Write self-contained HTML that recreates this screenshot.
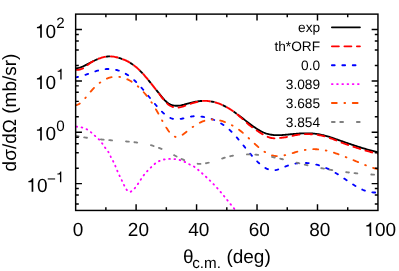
<!DOCTYPE html>
<html><head><meta charset="utf-8"><title>plot</title>
<style>html,body{margin:0;padding:0;background:#fff;}svg{display:block;will-change:transform;}text{text-rendering:geometricPrecision;font-family:"Liberation Sans",sans-serif;fill:#000;}</style></head>
<body>
<svg width="399" height="271" viewBox="0 0 399 271">
<rect width="399" height="271" fill="#fff"/>
<defs><clipPath id="c"><rect x="75.65" y="14.12" width="302.30" height="196.33"/></clipPath></defs>
<g clip-path="url(#c)" fill="none" stroke-width="1.85" stroke-linecap="round" stroke-linejoin="round">
<path d="M75.60 68.30 L76.60 68.22 L77.60 68.08 L78.60 67.87 L79.60 67.61 L80.60 67.30 L81.60 66.94 L82.60 66.54 L83.60 66.11 L84.60 65.65 L85.60 65.16 L86.60 64.65 L87.60 64.12 L88.60 63.59 L89.60 63.05 L90.60 62.51 L91.60 61.98 L92.60 61.46 L93.60 60.95 L94.60 60.46 L95.60 59.99 L96.60 59.55 L97.60 59.12 L98.60 58.73 L99.60 58.35 L100.60 58.01 L101.60 57.69 L102.60 57.41 L103.60 57.16 L104.60 56.94 L105.60 56.75 L106.60 56.61 L107.60 56.50 L108.60 56.43 L109.60 56.41 L110.60 56.42 L111.60 56.47 L112.60 56.56 L113.60 56.69 L114.60 56.85 L115.60 57.04 L116.60 57.26 L117.60 57.52 L118.60 57.80 L119.60 58.10 L120.60 58.43 L121.60 58.78 L122.60 59.15 L123.60 59.55 L124.60 59.97 L125.60 60.41 L126.60 60.89 L127.60 61.39 L128.60 61.92 L129.60 62.49 L130.60 63.09 L131.60 63.72 L132.60 64.40 L133.60 65.11 L134.60 65.87 L135.60 66.66 L136.60 67.51 L137.60 68.39 L138.60 69.32 L139.60 70.28 L140.60 71.29 L141.60 72.33 L142.60 73.39 L143.60 74.49 L144.60 75.62 L145.60 76.77 L146.60 77.95 L147.60 79.14 L148.60 80.35 L149.60 81.58 L150.60 82.82 L151.60 84.07 L152.60 85.33 L153.60 86.60 L154.60 87.87 L155.60 89.14 L156.60 90.41 L157.60 91.68 L158.60 92.94 L159.60 94.19 L160.60 95.43 L161.60 96.65 L162.60 97.83 L163.60 98.96 L164.60 100.04 L165.60 101.04 L166.60 101.96 L167.60 102.78 L168.60 103.49 L169.60 104.09 L170.60 104.58 L171.60 104.97 L172.60 105.28 L173.60 105.51 L174.60 105.67 L175.60 105.76 L176.60 105.79 L177.60 105.77 L178.60 105.70 L179.60 105.58 L180.60 105.43 L181.60 105.24 L182.60 105.02 L183.60 104.78 L184.60 104.52 L185.60 104.24 L186.60 103.96 L187.60 103.67 L188.60 103.39 L189.60 103.11 L190.60 102.85 L191.60 102.59 L192.60 102.35 L193.60 102.13 L194.60 101.92 L195.60 101.73 L196.60 101.55 L197.60 101.40 L198.60 101.26 L199.60 101.14 L200.60 101.04 L201.60 100.97 L202.60 100.91 L203.60 100.88 L204.60 100.88 L205.60 100.89 L206.60 100.94 L207.60 101.01 L208.60 101.10 L209.60 101.23 L210.60 101.37 L211.60 101.55 L212.60 101.75 L213.60 101.97 L214.60 102.22 L215.60 102.49 L216.60 102.79 L217.60 103.12 L218.60 103.46 L219.60 103.84 L220.60 104.23 L221.60 104.66 L222.60 105.10 L223.60 105.57 L224.60 106.07 L225.60 106.58 L226.60 107.12 L227.60 107.69 L228.60 108.28 L229.60 108.89 L230.60 109.52 L231.60 110.18 L232.60 110.85 L233.60 111.54 L234.60 112.25 L235.60 112.97 L236.60 113.70 L237.60 114.45 L238.60 115.20 L239.60 115.97 L240.60 116.74 L241.60 117.52 L242.60 118.30 L243.60 119.08 L244.60 119.86 L245.60 120.64 L246.60 121.42 L247.60 122.20 L248.60 122.97 L249.60 123.73 L250.60 124.48 L251.60 125.22 L252.60 125.95 L253.60 126.66 L254.60 127.36 L255.60 128.03 L256.60 128.68 L257.60 129.31 L258.60 129.92 L259.60 130.49 L260.60 131.04 L261.60 131.56 L262.60 132.04 L263.60 132.49 L264.60 132.90 L265.60 133.27 L266.60 133.61 L267.60 133.90 L268.60 134.17 L269.60 134.39 L270.60 134.59 L271.60 134.75 L272.60 134.89 L273.60 135.00 L274.60 135.08 L275.60 135.14 L276.60 135.17 L277.60 135.19 L278.60 135.19 L279.60 135.17 L280.60 135.13 L281.60 135.08 L282.60 135.02 L283.60 134.95 L284.60 134.87 L285.60 134.78 L286.60 134.68 L287.60 134.58 L288.60 134.48 L289.60 134.38 L290.60 134.28 L291.60 134.18 L292.60 134.08 L293.60 133.99 L294.60 133.90 L295.60 133.82 L296.60 133.74 L297.60 133.66 L298.60 133.59 L299.60 133.53 L300.60 133.47 L301.60 133.42 L302.60 133.38 L303.60 133.34 L304.60 133.32 L305.60 133.31 L306.60 133.30 L307.60 133.31 L308.60 133.32 L309.60 133.35 L310.60 133.39 L311.60 133.45 L312.60 133.51 L313.60 133.59 L314.60 133.69 L315.60 133.80 L316.60 133.92 L317.60 134.07 L318.60 134.22 L319.60 134.40 L320.60 134.59 L321.60 134.80 L322.60 135.03 L323.60 135.27 L324.60 135.53 L325.60 135.80 L326.60 136.08 L327.60 136.37 L328.60 136.68 L329.60 136.99 L330.60 137.31 L331.60 137.64 L332.60 137.98 L333.60 138.32 L334.60 138.66 L335.60 139.01 L336.60 139.35 L337.60 139.70 L338.60 140.05 L339.60 140.40 L340.60 140.75 L341.60 141.10 L342.60 141.45 L343.60 141.80 L344.60 142.15 L345.60 142.50 L346.60 142.84 L347.60 143.19 L348.60 143.53 L349.60 143.87 L350.60 144.21 L351.60 144.55 L352.60 144.89 L353.60 145.22 L354.60 145.55 L355.60 145.88 L356.60 146.21 L357.60 146.53 L358.60 146.85 L359.60 147.17 L360.60 147.48 L361.60 147.79 L362.60 148.10 L363.60 148.40 L364.60 148.70 L365.60 149.00 L366.60 149.29 L367.60 149.57 L368.60 149.85 L369.60 150.13 L370.60 150.40 L371.60 150.66 L372.60 150.92 L373.60 151.18 L374.60 151.43 L375.60 151.67 L376.60 151.91 L377.60 152.14 L377.90 152.20" stroke="#000000"/>
<clipPath id="e"><rect x="95" y="0" width="64" height="271"/><rect x="199" y="0" width="39" height="271"/></clipPath>
<path clip-path="url(#e)" d="M75.60 69.90 L76.60 69.94 L77.60 69.89 L78.60 69.76 L79.60 69.54 L80.60 69.26 L81.60 68.93 L82.60 68.54 L83.60 68.06 L84.60 67.34 L85.60 66.49 L86.60 65.65 L87.60 64.89 L88.60 64.15 L89.60 63.43 L90.60 62.75 L91.60 62.13 L92.60 61.54 L93.60 60.98 L94.60 60.47 L95.60 59.99 L96.60 59.55 L97.60 59.12 L98.60 58.73 L99.60 58.35 L100.60 58.01 L101.60 57.69 L102.60 57.41 L103.60 57.16 L104.60 56.94 L105.60 56.75 L106.60 56.61 L107.60 56.50 L108.60 56.43 L109.60 56.41 L110.60 56.42 L111.60 56.47 L112.60 56.56 L113.60 56.69 L114.60 56.85 L115.60 57.04 L116.60 57.26 L117.60 57.52 L118.60 57.80 L119.60 58.10 L120.60 58.43 L121.60 58.78 L122.60 59.15 L123.60 59.55 L124.60 59.97 L125.60 60.41 L126.60 60.89 L127.60 61.39 L128.60 61.92 L129.60 62.49 L130.60 63.09 L131.60 63.72 L132.60 64.40 L133.60 65.11 L134.60 65.87 L135.60 66.66 L136.60 67.51 L137.60 68.39 L138.60 69.32 L139.60 70.28 L140.60 71.29 L141.60 72.33 L142.60 73.39 L143.60 74.49 L144.60 75.62 L145.60 76.77 L146.60 77.95 L147.60 79.14 L148.60 80.35 L149.60 81.58 L150.60 82.82 L151.60 84.08 L152.60 85.36 L153.60 86.65 L154.60 87.94 L155.60 89.25 L156.60 90.56 L157.60 91.87 L158.60 93.17 L159.60 94.47 L160.60 95.77 L161.60 97.07 L162.60 98.36 L163.60 99.62 L164.60 100.83 L165.60 101.97 L166.60 103.01 L167.60 103.94 L168.60 104.74 L169.60 105.43 L170.60 106.01 L171.60 106.49 L172.60 106.88 L173.60 107.18 L174.60 107.40 L175.60 107.54 L176.60 107.59 L177.60 107.57 L178.60 107.47 L179.60 107.32 L180.60 107.11 L181.60 106.86 L182.60 106.57 L183.60 106.25 L184.60 105.92 L185.60 105.57 L186.60 105.22 L187.60 104.86 L188.60 104.50 L189.60 104.14 L190.60 103.79 L191.60 103.45 L192.60 103.13 L193.60 102.82 L194.60 102.53 L195.60 102.26 L196.60 102.01 L197.60 101.76 L198.60 101.53 L199.60 101.32 L200.60 101.14 L201.60 101.00 L202.60 100.92 L203.60 100.88 L204.60 100.88 L205.60 100.89 L206.60 100.94 L207.60 101.01 L208.60 101.10 L209.60 101.23 L210.60 101.37 L211.60 101.55 L212.60 101.75 L213.60 101.97 L214.60 102.22 L215.60 102.49 L216.60 102.79 L217.60 103.12 L218.60 103.46 L219.60 103.84 L220.60 104.23 L221.60 104.66 L222.60 105.10 L223.60 105.57 L224.60 106.07 L225.60 106.58 L226.60 107.12 L227.60 107.69 L228.60 108.28 L229.60 108.89 L230.60 109.52 L231.60 110.18 L232.60 110.85 L233.60 111.55 L234.60 112.29 L235.60 113.07 L236.60 113.88 L237.60 114.72 L238.60 115.57 L239.60 116.43 L240.60 117.30 L241.60 118.18 L242.60 119.08 L243.60 119.99 L244.60 120.90 L245.60 121.80 L246.60 122.69 L247.60 123.58 L248.60 124.46 L249.60 125.31 L250.60 126.11 L251.60 126.88 L252.60 127.63 L253.60 128.36 L254.60 129.07 L255.60 129.76 L256.60 130.44 L257.60 131.10 L258.60 131.74 L259.60 132.38 L260.60 133.01 L261.60 133.62 L262.60 134.24 L263.60 134.84 L264.60 135.42 L265.60 135.95 L266.60 136.41 L267.60 136.81 L268.60 137.18 L269.60 137.50 L270.60 137.79 L271.60 138.01 L272.60 138.18 L273.60 138.29 L274.60 138.32 L275.60 138.30 L276.60 138.24 L277.60 138.16 L278.60 138.07 L279.60 137.98 L280.60 137.89 L281.60 137.78 L282.60 137.67 L283.60 137.54 L284.60 137.39 L285.60 137.23 L286.60 137.04 L287.60 136.84 L288.60 136.63 L289.60 136.41 L290.60 136.20 L291.60 135.99 L292.60 135.78 L293.60 135.59 L294.60 135.38 L295.60 135.18 L296.60 134.99 L297.60 134.82 L298.60 134.66 L299.60 134.54 L300.60 134.45 L301.60 134.37 L302.60 134.31 L303.60 134.25 L304.60 134.21 L305.60 134.18 L306.60 134.16 L307.60 134.16 L308.60 134.16 L309.60 134.18 L310.60 134.21 L311.60 134.26 L312.60 134.32 L313.60 134.40 L314.60 134.49 L315.60 134.60 L316.60 134.73 L317.60 134.88 L318.60 135.04 L319.60 135.22 L320.60 135.43 L321.60 135.65 L322.60 135.88 L323.60 136.14 L324.60 136.40 L325.60 136.68 L326.60 136.98 L327.60 137.29 L328.60 137.61 L329.60 137.94 L330.60 138.28 L331.60 138.63 L332.60 138.99 L333.60 139.38 L334.60 139.78 L335.60 140.19 L336.60 140.61 L337.60 141.02 L338.60 141.44 L339.60 141.84 L340.60 142.23 L341.60 142.62 L342.60 143.01 L343.60 143.38 L344.60 143.75 L345.60 144.10 L346.60 144.44 L347.60 144.79 L348.60 145.13 L349.60 145.47 L350.60 145.81 L351.60 146.15 L352.60 146.49 L353.60 146.82 L354.60 147.15 L355.60 147.48 L356.60 147.81 L357.60 148.13 L358.60 148.45 L359.60 148.77 L360.60 149.08 L361.60 149.39 L362.60 149.70 L363.60 150.00 L364.60 150.30 L365.60 150.60 L366.60 150.89 L367.60 151.17 L368.60 151.45 L369.60 151.73 L370.60 152.00 L371.60 152.26 L372.60 152.52 L373.60 152.78 L374.60 153.03 L375.60 153.27 L376.60 153.51 L377.60 153.74 L377.90 153.80" stroke="#fff" stroke-linecap="butt" stroke-width="2.85" stroke-dasharray="8.602,4.021" stroke-dashoffset="0.12"/>
<path d="M75.60 69.90 L76.60 69.94 L77.60 69.89 L78.60 69.76 L79.60 69.54 L80.60 69.26 L81.60 68.93 L82.60 68.54 L83.60 68.06 L84.60 67.34 L85.60 66.49 L86.60 65.65 L87.60 64.89 L88.60 64.15 L89.60 63.43 L90.60 62.75 L91.60 62.13 L92.60 61.54 L93.60 60.98 L94.60 60.47 L95.60 59.99 L96.60 59.55 L97.60 59.12 L98.60 58.73 L99.60 58.35 L100.60 58.01 L101.60 57.69 L102.60 57.41 L103.60 57.16 L104.60 56.94 L105.60 56.75 L106.60 56.61 L107.60 56.50 L108.60 56.43 L109.60 56.41 L110.60 56.42 L111.60 56.47 L112.60 56.56 L113.60 56.69 L114.60 56.85 L115.60 57.04 L116.60 57.26 L117.60 57.52 L118.60 57.80 L119.60 58.10 L120.60 58.43 L121.60 58.78 L122.60 59.15 L123.60 59.55 L124.60 59.97 L125.60 60.41 L126.60 60.89 L127.60 61.39 L128.60 61.92 L129.60 62.49 L130.60 63.09 L131.60 63.72 L132.60 64.40 L133.60 65.11 L134.60 65.87 L135.60 66.66 L136.60 67.51 L137.60 68.39 L138.60 69.32 L139.60 70.28 L140.60 71.29 L141.60 72.33 L142.60 73.39 L143.60 74.49 L144.60 75.62 L145.60 76.77 L146.60 77.95 L147.60 79.14 L148.60 80.35 L149.60 81.58 L150.60 82.82 L151.60 84.08 L152.60 85.36 L153.60 86.65 L154.60 87.94 L155.60 89.25 L156.60 90.56 L157.60 91.87 L158.60 93.17 L159.60 94.47 L160.60 95.77 L161.60 97.07 L162.60 98.36 L163.60 99.62 L164.60 100.83 L165.60 101.97 L166.60 103.01 L167.60 103.94 L168.60 104.74 L169.60 105.43 L170.60 106.01 L171.60 106.49 L172.60 106.88 L173.60 107.18 L174.60 107.40 L175.60 107.54 L176.60 107.59 L177.60 107.57 L178.60 107.47 L179.60 107.32 L180.60 107.11 L181.60 106.86 L182.60 106.57 L183.60 106.25 L184.60 105.92 L185.60 105.57 L186.60 105.22 L187.60 104.86 L188.60 104.50 L189.60 104.14 L190.60 103.79 L191.60 103.45 L192.60 103.13 L193.60 102.82 L194.60 102.53 L195.60 102.26 L196.60 102.01 L197.60 101.76 L198.60 101.53 L199.60 101.32 L200.60 101.14 L201.60 101.00 L202.60 100.92 L203.60 100.88 L204.60 100.88 L205.60 100.89 L206.60 100.94 L207.60 101.01 L208.60 101.10 L209.60 101.23 L210.60 101.37 L211.60 101.55 L212.60 101.75 L213.60 101.97 L214.60 102.22 L215.60 102.49 L216.60 102.79 L217.60 103.12 L218.60 103.46 L219.60 103.84 L220.60 104.23 L221.60 104.66 L222.60 105.10 L223.60 105.57 L224.60 106.07 L225.60 106.58 L226.60 107.12 L227.60 107.69 L228.60 108.28 L229.60 108.89 L230.60 109.52 L231.60 110.18 L232.60 110.85 L233.60 111.55 L234.60 112.29 L235.60 113.07 L236.60 113.88 L237.60 114.72 L238.60 115.57 L239.60 116.43 L240.60 117.30 L241.60 118.18 L242.60 119.08 L243.60 119.99 L244.60 120.90 L245.60 121.80 L246.60 122.69 L247.60 123.58 L248.60 124.46 L249.60 125.31 L250.60 126.11 L251.60 126.88 L252.60 127.63 L253.60 128.36 L254.60 129.07 L255.60 129.76 L256.60 130.44 L257.60 131.10 L258.60 131.74 L259.60 132.38 L260.60 133.01 L261.60 133.62 L262.60 134.24 L263.60 134.84 L264.60 135.42 L265.60 135.95 L266.60 136.41 L267.60 136.81 L268.60 137.18 L269.60 137.50 L270.60 137.79 L271.60 138.01 L272.60 138.18 L273.60 138.29 L274.60 138.32 L275.60 138.30 L276.60 138.24 L277.60 138.16 L278.60 138.07 L279.60 137.98 L280.60 137.89 L281.60 137.78 L282.60 137.67 L283.60 137.54 L284.60 137.39 L285.60 137.23 L286.60 137.04 L287.60 136.84 L288.60 136.63 L289.60 136.41 L290.60 136.20 L291.60 135.99 L292.60 135.78 L293.60 135.59 L294.60 135.38 L295.60 135.18 L296.60 134.99 L297.60 134.82 L298.60 134.66 L299.60 134.54 L300.60 134.45 L301.60 134.37 L302.60 134.31 L303.60 134.25 L304.60 134.21 L305.60 134.18 L306.60 134.16 L307.60 134.16 L308.60 134.16 L309.60 134.18 L310.60 134.21 L311.60 134.26 L312.60 134.32 L313.60 134.40 L314.60 134.49 L315.60 134.60 L316.60 134.73 L317.60 134.88 L318.60 135.04 L319.60 135.22 L320.60 135.43 L321.60 135.65 L322.60 135.88 L323.60 136.14 L324.60 136.40 L325.60 136.68 L326.60 136.98 L327.60 137.29 L328.60 137.61 L329.60 137.94 L330.60 138.28 L331.60 138.63 L332.60 138.99 L333.60 139.38 L334.60 139.78 L335.60 140.19 L336.60 140.61 L337.60 141.02 L338.60 141.44 L339.60 141.84 L340.60 142.23 L341.60 142.62 L342.60 143.01 L343.60 143.38 L344.60 143.75 L345.60 144.10 L346.60 144.44 L347.60 144.79 L348.60 145.13 L349.60 145.47 L350.60 145.81 L351.60 146.15 L352.60 146.49 L353.60 146.82 L354.60 147.15 L355.60 147.48 L356.60 147.81 L357.60 148.13 L358.60 148.45 L359.60 148.77 L360.60 149.08 L361.60 149.39 L362.60 149.70 L363.60 150.00 L364.60 150.30 L365.60 150.60 L366.60 150.89 L367.60 151.17 L368.60 151.45 L369.60 151.73 L370.60 152.00 L371.60 152.26 L372.60 152.52 L373.60 152.78 L374.60 153.03 L375.60 153.27 L376.60 153.51 L377.60 153.74 L377.90 153.80" stroke="#ff0000" stroke-dasharray="7.052,5.571" stroke-dashoffset="-0.66"/>
<path d="M75.60 77.32 L76.60 77.17 L77.60 76.98 L78.60 76.78 L79.60 76.54 L80.60 76.29 L81.60 76.01 L82.60 75.72 L83.60 75.41 L84.60 75.09 L85.60 74.76 L86.60 74.42 L87.60 74.07 L88.60 73.72 L89.60 73.36 L90.60 73.01 L91.60 72.65 L92.60 72.30 L93.60 71.96 L94.60 71.62 L95.60 71.30 L96.60 70.99 L97.60 70.69 L98.60 70.41 L99.60 70.15 L100.60 69.90 L101.60 69.69 L102.60 69.50 L103.60 69.33 L104.60 69.20 L105.60 69.09 L106.60 69.02 L107.60 68.97 L108.60 68.96 L109.60 68.97 L110.60 69.02 L111.60 69.10 L112.60 69.21 L113.60 69.35 L114.60 69.53 L115.60 69.74 L116.60 69.98 L117.60 70.26 L118.60 70.57 L119.60 70.91 L120.60 71.30 L121.60 71.71 L122.60 72.16 L123.60 72.65 L124.60 73.18 L125.60 73.74 L126.60 74.34 L127.60 74.97 L128.60 75.65 L129.60 76.36 L130.60 77.11 L131.60 77.90 L132.60 78.73 L133.60 79.60 L134.60 80.52 L135.60 81.47 L136.60 82.45 L137.60 83.48 L138.60 84.53 L139.60 85.62 L140.60 86.73 L141.60 87.86 L142.60 89.02 L143.60 90.19 L144.60 91.38 L145.60 92.59 L146.60 93.80 L147.60 95.02 L148.60 96.24 L149.60 97.47 L150.60 98.70 L151.60 99.92 L152.60 101.14 L153.60 102.35 L154.60 103.54 L155.60 104.73 L156.60 105.89 L157.60 107.04 L158.60 108.16 L159.60 109.25 L160.60 110.30 L161.60 111.32 L162.60 112.29 L163.60 113.22 L164.60 114.10 L165.60 114.92 L166.60 115.68 L167.60 116.38 L168.60 117.01 L169.60 117.56 L170.60 118.04 L171.60 118.44 L172.60 118.75 L173.60 118.99 L174.60 119.15 L175.60 119.24 L176.60 119.28 L177.60 119.26 L178.60 119.19 L179.60 119.07 L180.60 118.92 L181.60 118.74 L182.60 118.53 L183.60 118.31 L184.60 118.06 L185.60 117.82 L186.60 117.56 L187.60 117.32 L188.60 117.08 L189.60 116.86 L190.60 116.66 L191.60 116.49 L192.60 116.35 L193.60 116.25 L194.60 116.19 L195.60 116.17 L196.60 116.17 L197.60 116.21 L198.60 116.27 L199.60 116.37 L200.60 116.48 L201.60 116.62 L202.60 116.77 L203.60 116.95 L204.60 117.14 L205.60 117.35 L206.60 117.57 L207.60 117.82 L208.60 118.08 L209.60 118.37 L210.60 118.68 L211.60 119.01 L212.60 119.36 L213.60 119.74 L214.60 120.15 L215.60 120.58 L216.60 121.04 L217.60 121.53 L218.60 122.04 L219.60 122.59 L220.60 123.17 L221.60 123.78 L222.60 124.42 L223.60 125.10 L224.60 125.81 L225.60 126.55 L226.60 127.34 L227.60 128.16 L228.60 129.01 L229.60 129.91 L230.60 130.85 L231.60 131.83 L232.60 132.84 L233.60 133.90 L234.60 134.98 L235.60 136.09 L236.60 137.23 L237.60 138.39 L238.60 139.57 L239.60 140.77 L240.60 141.98 L241.60 143.21 L242.60 144.44 L243.60 145.68 L244.60 146.92 L245.60 148.15 L246.60 149.39 L247.60 150.61 L248.60 151.83 L249.60 153.04 L250.60 154.22 L251.60 155.39 L252.60 156.54 L253.60 157.66 L254.60 158.76 L255.60 159.82 L256.60 160.85 L257.60 161.84 L258.60 162.80 L259.60 163.71 L260.60 164.57 L261.60 165.39 L262.60 166.15 L263.60 166.86 L264.60 167.51 L265.60 168.11 L266.60 168.63 L267.60 169.09 L268.60 169.49 L269.60 169.80 L270.60 170.05 L271.60 170.21 L272.60 170.30 L273.60 170.30 L274.60 170.22 L275.60 170.06 L276.60 169.85 L277.60 169.57 L278.60 169.25 L279.60 168.90 L280.60 168.51 L281.60 168.10 L282.60 167.68 L283.60 167.25 L284.60 166.83 L285.60 166.42 L286.60 166.03 L287.60 165.66 L288.60 165.31 L289.60 164.99 L290.60 164.70 L291.60 164.42 L292.60 164.17 L293.60 163.95 L294.60 163.74 L295.60 163.56 L296.60 163.40 L297.60 163.26 L298.60 163.15 L299.60 163.05 L300.60 162.98 L301.60 162.93 L302.60 162.90 L303.60 162.90 L304.60 162.91 L305.60 162.94 L306.60 163.00 L307.60 163.08 L308.60 163.17 L309.60 163.29 L310.60 163.43 L311.60 163.58 L312.60 163.76 L313.60 163.96 L314.60 164.17 L315.60 164.41 L316.60 164.66 L317.60 164.94 L318.60 165.23 L319.60 165.54 L320.60 165.87 L321.60 166.22 L322.60 166.59 L323.60 166.97 L324.60 167.37 L325.60 167.79 L326.60 168.23 L327.60 168.69 L328.60 169.16 L329.60 169.65 L330.60 170.16 L331.60 170.68 L332.60 171.22 L333.60 171.78 L334.60 172.35 L335.60 172.94 L336.60 173.55 L337.60 174.17 L338.60 174.80 L339.60 175.45 L340.60 176.10 L341.60 176.77 L342.60 177.44 L343.60 178.12 L344.60 178.80 L345.60 179.48 L346.60 180.16 L347.60 180.84 L348.60 181.52 L349.60 182.19 L350.60 182.86 L351.60 183.52 L352.60 184.16 L353.60 184.80 L354.60 185.42 L355.60 186.03 L356.60 186.62 L357.60 187.20 L358.60 187.75 L359.60 188.28 L360.60 188.79 L361.60 189.27 L362.60 189.73 L363.60 190.15 L364.60 190.55 L365.60 190.92 L366.60 191.25 L367.60 191.55 L368.60 191.81 L369.60 192.03 L370.60 192.21 L371.60 192.35 L372.60 192.45 L373.60 192.50 L374.60 192.51 L375.60 192.46 L376.60 192.37 L377.60 192.22 L378.00 192.15" stroke="#0000ff" stroke-dasharray="2.844,7.675" stroke-dashoffset="0.36"/>
<path d="M75.70 126.49 L76.70 126.68 L77.70 126.84 L78.70 126.99 L79.70 127.13 L80.70 127.28 L81.70 127.46 L82.70 127.68 L83.70 127.95 L84.70 128.28 L85.70 128.70 L86.70 129.20 L87.70 129.80 L88.70 130.48 L89.70 131.23 L90.70 132.04 L91.70 132.89 L92.70 133.76 L93.70 134.66 L94.70 135.56 L95.70 136.45 L96.70 137.34 L97.70 138.25 L98.70 139.22 L99.70 140.27 L100.70 141.42 L101.70 142.70 L102.70 144.14 L103.70 145.67 L104.70 147.16 L105.70 148.46 L106.70 149.64 L107.70 150.91 L108.70 152.50 L109.70 154.48 L110.70 156.57 L111.70 158.54 L112.70 160.43 L113.70 162.37 L114.70 164.47 L115.70 166.81 L116.70 169.35 L117.70 171.79 L118.70 174.02 L119.70 176.10 L120.70 178.14 L121.70 180.18 L122.70 182.30 L123.70 184.42 L124.70 186.45 L125.70 188.29 L126.70 189.87 L127.70 191.07 L128.70 191.81 L129.70 192.02 L130.70 191.72 L131.70 191.12 L132.70 190.35 L133.70 189.41 L134.70 188.31 L135.70 187.08 L136.70 185.73 L137.70 184.29 L138.70 182.79 L139.70 181.25 L140.70 179.71 L141.70 178.19 L142.70 176.72 L143.70 175.32 L144.70 174.03 L145.70 172.83 L146.70 171.71 L147.70 170.65 L148.70 169.64 L149.70 168.64 L150.70 167.66 L151.70 166.68 L152.70 165.72 L153.70 164.80 L154.70 163.94 L155.70 163.17 L156.70 162.47 L157.70 161.86 L158.70 161.32 L159.70 160.84 L160.70 160.43 L161.70 160.08 L162.70 159.78 L163.70 159.54 L164.70 159.34 L165.70 159.19 L166.70 159.07 L167.70 158.98 L168.70 158.93 L169.70 158.90 L170.70 158.89 L171.70 158.90 L172.70 158.93 L173.70 158.99 L174.70 159.08 L175.70 159.20 L176.70 159.35 L177.70 159.53 L178.70 159.75 L179.70 160.01 L180.70 160.30 L181.70 160.64 L182.70 161.01 L183.70 161.43 L184.70 161.90 L185.70 162.41 L186.70 162.95 L187.70 163.50 L188.70 164.03 L189.70 164.52 L190.70 164.96 L191.70 165.40 L192.70 165.86 L193.70 166.40 L194.70 167.03 L195.70 167.76 L196.70 168.57 L197.70 169.41 L198.70 170.28 L199.70 171.15 L200.70 172.03 L201.70 172.91 L202.70 173.81 L203.70 174.71 L204.70 175.62 L205.70 176.54 L206.70 177.47 L207.70 178.41 L208.70 179.37 L209.70 180.34 L210.70 181.32 L211.70 182.32 L212.70 183.33 L213.70 184.36 L214.70 185.40 L215.70 186.46 L216.70 187.54 L217.70 188.64 L218.70 189.76 L219.70 190.90 L220.70 192.06 L221.70 193.24 L222.70 194.44 L223.70 195.66 L224.70 196.89 L225.70 198.13 L226.70 199.38 L227.70 200.63 L228.70 201.89 L229.70 203.14 L230.70 204.38 L231.70 205.62 L232.70 206.84 L233.70 208.05 L234.70 209.24 L235.60 210.29" stroke="#ff00ff" stroke-dasharray="0.740,4.519" stroke-dashoffset="-0.69"/>
<path d="M75.60 105.20 L76.60 105.04 L77.60 104.71 L78.60 104.23 L79.60 103.60 L80.60 102.84 L81.60 101.98 L82.60 101.02 L83.60 99.97 L84.60 98.86 L85.60 97.70 L86.60 96.51 L87.60 95.29 L88.60 94.07 L89.60 92.86 L90.60 91.67 L91.60 90.52 L92.60 89.42 L93.60 88.36 L94.60 87.34 L95.60 86.37 L96.60 85.45 L97.60 84.57 L98.60 83.74 L99.60 82.95 L100.60 82.21 L101.60 81.51 L102.60 80.87 L103.60 80.26 L104.60 79.71 L105.60 79.20 L106.60 78.74 L107.60 78.32 L108.60 77.95 L109.60 77.63 L110.60 77.36 L111.60 77.13 L112.60 76.95 L113.60 76.81 L114.60 76.71 L115.60 76.67 L116.60 76.66 L117.60 76.70 L118.60 76.79 L119.60 76.91 L120.60 77.08 L121.60 77.29 L122.60 77.55 L123.60 77.84 L124.60 78.18 L125.60 78.56 L126.60 78.97 L127.60 79.43 L128.60 79.93 L129.60 80.47 L130.60 81.04 L131.60 81.66 L132.60 82.31 L133.60 83.00 L134.60 83.73 L135.60 84.50 L136.60 85.31 L137.60 86.16 L138.60 87.05 L139.60 87.98 L140.60 88.95 L141.60 89.96 L142.60 91.02 L143.60 92.12 L144.60 93.26 L145.60 94.44 L146.60 95.68 L147.60 96.95 L148.60 98.28 L149.60 99.64 L150.60 101.06 L151.60 102.52 L152.60 104.03 L153.60 105.59 L154.60 107.19 L155.60 108.84 L156.60 110.54 L157.60 112.28 L158.60 114.07 L159.60 115.87 L160.60 117.69 L161.60 119.51 L162.60 121.32 L163.60 123.09 L164.60 124.82 L165.60 126.49 L166.60 128.09 L167.60 129.60 L168.60 131.02 L169.60 132.32 L170.60 133.49 L171.60 134.53 L172.60 135.41 L173.60 136.12 L174.60 136.64 L175.60 136.97 L176.60 137.11 L177.60 137.06 L178.60 136.86 L179.60 136.51 L180.60 136.04 L181.60 135.47 L182.60 134.81 L183.60 134.08 L184.60 133.31 L185.60 132.51 L186.60 131.70 L187.60 130.89 L188.60 130.10 L189.60 129.33 L190.60 128.57 L191.60 127.83 L192.60 127.12 L193.60 126.42 L194.60 125.75 L195.60 125.10 L196.60 124.49 L197.60 123.90 L198.60 123.34 L199.60 122.81 L200.60 122.32 L201.60 121.86 L202.60 121.44 L203.60 121.06 L204.60 120.72 L205.60 120.42 L206.60 120.16 L207.60 119.95 L208.60 119.78 L209.60 119.65 L210.60 119.56 L211.60 119.51 L212.60 119.50 L213.60 119.52 L214.60 119.58 L215.60 119.68 L216.60 119.80 L217.60 119.97 L218.60 120.16 L219.60 120.38 L220.60 120.64 L221.60 120.92 L222.60 121.23 L223.60 121.57 L224.60 121.93 L225.60 122.32 L226.60 122.74 L227.60 123.17 L228.60 123.63 L229.60 124.11 L230.60 124.61 L231.60 125.13 L232.60 125.67 L233.60 126.23 L234.60 126.81 L235.60 127.42 L236.60 128.06 L237.60 128.73 L238.60 129.44 L239.60 130.19 L240.60 130.97 L241.60 131.79 L242.60 132.63 L243.60 133.50 L244.60 134.39 L245.60 135.29 L246.60 136.21 L247.60 137.14 L248.60 138.08 L249.60 139.02 L250.60 139.97 L251.60 140.91 L252.60 141.86 L253.60 142.79 L254.60 143.72 L255.60 144.64 L256.60 145.53 L257.60 146.42 L258.60 147.28 L259.60 148.12 L260.60 148.93 L261.60 149.71 L262.60 150.46 L263.60 151.17 L264.60 151.84 L265.60 152.48 L266.60 153.07 L267.60 153.61 L268.60 154.10 L269.60 154.54 L270.60 154.93 L271.60 155.25 L272.60 155.52 L273.60 155.73 L274.60 155.89 L275.60 156.00 L276.60 156.06 L277.60 156.08 L278.60 156.06 L279.60 156.00 L280.60 155.90 L281.60 155.78 L282.60 155.62 L283.60 155.44 L284.60 155.23 L285.60 155.01 L286.60 154.76 L287.60 154.50 L288.60 154.23 L289.60 153.95 L290.60 153.66 L291.60 153.37 L292.60 153.08 L293.60 152.79 L294.60 152.50 L295.60 152.21 L296.60 151.93 L297.60 151.66 L298.60 151.40 L299.60 151.14 L300.60 150.90 L301.60 150.66 L302.60 150.44 L303.60 150.24 L304.60 150.05 L305.60 149.88 L306.60 149.73 L307.60 149.60 L308.60 149.48 L309.60 149.39 L310.60 149.31 L311.60 149.25 L312.60 149.21 L313.60 149.19 L314.60 149.19 L315.60 149.21 L316.60 149.25 L317.60 149.31 L318.60 149.39 L319.60 149.49 L320.60 149.61 L321.60 149.74 L322.60 149.90 L323.60 150.07 L324.60 150.26 L325.60 150.46 L326.60 150.69 L327.60 150.92 L328.60 151.17 L329.60 151.43 L330.60 151.71 L331.60 152.00 L332.60 152.30 L333.60 152.61 L334.60 152.93 L335.60 153.26 L336.60 153.60 L337.60 153.95 L338.60 154.31 L339.60 154.67 L340.60 155.04 L341.60 155.42 L342.60 155.80 L343.60 156.18 L344.60 156.58 L345.60 156.97 L346.60 157.37 L347.60 157.77 L348.60 158.18 L349.60 158.59 L350.60 159.00 L351.60 159.42 L352.60 159.83 L353.60 160.25 L354.60 160.67 L355.60 161.09 L356.60 161.50 L357.60 161.92 L358.60 162.34 L359.60 162.75 L360.60 163.17 L361.60 163.58 L362.60 163.99 L363.60 164.39 L364.60 164.79 L365.60 165.18 L366.60 165.57 L367.60 165.95 L368.60 166.32 L369.60 166.68 L370.60 167.04 L371.60 167.38 L372.60 167.71 L373.60 168.03 L374.60 168.34 L375.60 168.64 L376.60 168.92 L377.60 169.19 L378.00 169.29" stroke="#ff4d00" stroke-dasharray="4.948,7.675,0.740,7.675" stroke-dashoffset="0.34"/>
<path d="M75.70 135.68 L76.70 135.90 L77.70 136.11 L78.70 136.32 L79.70 136.51 L80.70 136.71 L81.70 136.89 L82.70 137.07 L83.70 137.24 L84.70 137.41 L85.70 137.57 L86.70 137.73 L87.70 137.88 L88.70 138.02 L89.70 138.16 L90.70 138.30 L91.70 138.43 L92.70 138.55 L93.70 138.67 L94.70 138.79 L95.70 138.90 L96.70 139.01 L97.70 139.12 L98.70 139.22 L99.70 139.32 L100.70 139.42 L101.70 139.51 L102.70 139.60 L103.70 139.69 L104.70 139.78 L105.70 139.86 L106.70 139.95 L107.70 140.03 L108.70 140.11 L109.70 140.18 L110.70 140.26 L111.70 140.34 L112.70 140.41 L113.70 140.49 L114.70 140.56 L115.70 140.64 L116.70 140.71 L117.70 140.79 L118.70 140.86 L119.70 140.94 L120.70 141.01 L121.70 141.09 L122.70 141.17 L123.70 141.25 L124.70 141.33 L125.70 141.41 L126.70 141.50 L127.70 141.58 L128.70 141.67 L129.70 141.76 L130.70 141.86 L131.70 141.96 L132.70 142.06 L133.70 142.17 L134.70 142.28 L135.70 142.40 L136.70 142.53 L137.70 142.66 L138.70 142.80 L139.70 142.94 L140.70 143.09 L141.70 143.26 L142.70 143.43 L143.70 143.61 L144.70 143.80 L145.70 144.00 L146.70 144.21 L147.70 144.43 L148.70 144.67 L149.70 144.91 L150.70 145.17 L151.70 145.44 L152.70 145.73 L153.70 146.03 L154.70 146.34 L155.70 146.67 L156.70 147.02 L157.70 147.38 L158.70 147.76 L159.70 148.15 L160.70 148.56 L161.70 148.99 L162.70 149.44 L163.70 149.90 L164.70 150.37 L165.70 150.85 L166.70 151.34 L167.70 151.85 L168.70 152.35 L169.70 152.87 L170.70 153.39 L171.70 153.91 L172.70 154.43 L173.70 154.95 L174.70 155.48 L175.70 155.99 L176.70 156.51 L177.70 157.02 L178.70 157.52 L179.70 158.01 L180.70 158.50 L181.70 158.97 L182.70 159.43 L183.70 159.87 L184.70 160.30 L185.70 160.71 L186.70 161.10 L187.70 161.48 L188.70 161.83 L189.70 162.16 L190.70 162.46 L191.70 162.74 L192.70 162.99 L193.70 163.22 L194.70 163.41 L195.70 163.57 L196.70 163.70 L197.70 163.80 L198.70 163.86 L199.70 163.88 L200.70 163.87 L201.70 163.82 L202.70 163.74 L203.70 163.63 L204.70 163.49 L205.70 163.33 L206.70 163.14 L207.70 162.93 L208.70 162.70 L209.70 162.44 L210.70 162.18 L211.70 161.89 L212.70 161.60 L213.70 161.29 L214.70 160.97 L215.70 160.65 L216.70 160.32 L217.70 159.98 L218.70 159.65 L219.70 159.31 L220.70 158.98 L221.70 158.65 L222.70 158.32 L223.70 158.00 L224.70 157.70 L225.70 157.40 L226.70 157.12 L227.70 156.85 L228.70 156.59 L229.70 156.36 L230.70 156.13 L231.70 155.92 L232.70 155.73 L233.70 155.55 L234.70 155.38 L235.70 155.23 L236.70 155.09 L237.70 154.96 L238.70 154.85 L239.70 154.75 L240.70 154.66 L241.70 154.59 L242.70 154.52 L243.70 154.47 L244.70 154.43 L245.70 154.40 L246.70 154.38 L247.70 154.38 L248.70 154.38 L249.70 154.39 L250.70 154.42 L251.70 154.45 L252.70 154.50 L253.70 154.55 L254.70 154.62 L255.70 154.69 L256.70 154.77 L257.70 154.86 L258.70 154.96 L259.70 155.06 L260.70 155.18 L261.70 155.30 L262.70 155.43 L263.70 155.57 L264.70 155.71 L265.70 155.86 L266.70 156.02 L267.70 156.18 L268.70 156.35 L269.70 156.53 L270.70 156.71 L271.70 156.89 L272.70 157.09 L273.70 157.28 L274.70 157.48 L275.70 157.69 L276.70 157.90 L277.70 158.11 L278.70 158.33 L279.70 158.56 L280.70 158.78 L281.70 159.01 L282.70 159.24 L283.70 159.47 L284.70 159.71 L285.70 159.95 L286.70 160.19 L287.70 160.43 L288.70 160.68 L289.70 160.92 L290.70 161.17 L291.70 161.42 L292.70 161.66 L293.70 161.91 L294.70 162.16 L295.70 162.41 L296.70 162.66 L297.70 162.90 L298.70 163.15 L299.70 163.40 L300.70 163.64 L301.70 163.88 L302.70 164.13 L303.70 164.37 L304.70 164.60 L305.70 164.84 L306.70 165.07 L307.70 165.30 L308.70 165.53 L309.70 165.75 L310.70 165.98 L311.70 166.20 L312.70 166.41 L313.70 166.63 L314.70 166.84 L315.70 167.05 L316.70 167.25 L317.70 167.46 L318.70 167.66 L319.70 167.86 L320.70 168.05 L321.70 168.25 L322.70 168.44 L323.70 168.62 L324.70 168.81 L325.70 168.99 L326.70 169.17 L327.70 169.35 L328.70 169.52 L329.70 169.70 L330.70 169.87 L331.70 170.03 L332.70 170.20 L333.70 170.36 L334.70 170.52 L335.70 170.67 L336.70 170.83 L337.70 170.98 L338.70 171.13 L339.70 171.27 L340.70 171.42 L341.70 171.56 L342.70 171.69 L343.70 171.83 L344.70 171.96 L345.70 172.09 L346.70 172.22 L347.70 172.34 L348.70 172.46 L349.70 172.58 L350.70 172.70 L351.70 172.81 L352.70 172.93 L353.70 173.03 L354.70 173.14 L355.70 173.24 L356.70 173.35 L357.70 173.44 L358.70 173.54 L359.70 173.63 L360.70 173.72 L361.70 173.81 L362.70 173.89 L363.70 173.98 L364.70 174.06 L365.70 174.13 L366.70 174.21 L367.70 174.28 L368.70 174.35 L369.70 174.42 L370.70 174.48 L371.70 174.54 L372.70 174.60 L373.70 174.66 L374.70 174.71 L375.70 174.76 L376.70 174.81 L377.70 174.85 L378.00 174.87" stroke="#808080" stroke-dasharray="2.844,5.571,2.844,13.986" stroke-dashoffset="-0.19"/>
</g>
<g fill="none" stroke-width="1.85" stroke-linecap="round">
<path d="M331.90 27.30 L359.95 27.30" stroke="#000000"/>
<path d="M331.90 46.35 L359.95 46.35" stroke="#ff0000" stroke-dasharray="6.982,5.516"/>
<path d="M331.90 65.25 L359.95 65.25" stroke="#0000ff" stroke-dasharray="2.816,7.599"/>
<path d="M331.90 84.10 L359.95 84.10" stroke="#ff00ff" stroke-dasharray="0.733,4.475"/>
<path d="M331.90 103.00 L359.95 103.00" stroke="#ff4d00" stroke-dasharray="4.899,7.599,0.733,7.599"/>
<path d="M331.90 122.00 L359.95 122.00" stroke="#808080" stroke-dasharray="2.816,5.516,2.816,13.848"/>
</g>
<g fill="none" stroke="#000" stroke-width="1.45" stroke-linecap="butt">
<path d="M105.88 210.45 v-3.15 M105.88 14.12 v3.15 M136.11 210.45 v-6.30 M136.11 14.12 v6.30 M166.34 210.45 v-3.15 M166.34 14.12 v3.15 M196.57 210.45 v-6.30 M196.57 14.12 v6.30 M226.80 210.45 v-3.15 M226.80 14.12 v3.15 M257.03 210.45 v-6.30 M257.03 14.12 v6.30 M287.26 210.45 v-3.15 M287.26 14.12 v3.15 M317.49 210.45 v-6.30 M317.49 14.12 v6.30 M347.72 210.45 v-3.15 M347.72 14.12 v3.15 M75.65 204.04 h3.15 M377.95 204.04 h-3.15 M75.65 194.99 h3.15 M377.95 194.99 h-3.15 M75.65 188.58 h3.15 M377.95 188.58 h-3.15 M75.65 183.60 h6.30 M377.95 183.60 h-6.30 M75.65 168.15 h3.15 M377.95 168.15 h-3.15 M75.65 152.69 h3.15 M377.95 152.69 h-3.15 M75.65 143.65 h3.15 M377.95 143.65 h-3.15 M75.65 137.24 h3.15 M377.95 137.24 h-3.15 M75.65 132.26 h6.30 M377.95 132.26 h-6.30 M75.65 116.81 h3.15 M377.95 116.81 h-3.15 M75.65 101.35 h3.15 M377.95 101.35 h-3.15 M75.65 92.31 h3.15 M377.95 92.31 h-3.15 M75.65 85.89 h3.15 M377.95 85.89 h-3.15 M75.65 80.92 h6.30 M377.95 80.92 h-6.30 M75.65 65.46 h3.15 M377.95 65.46 h-3.15 M75.65 50.01 h3.15 M377.95 50.01 h-3.15 M75.65 40.97 h3.15 M377.95 40.97 h-3.15 M75.65 34.55 h3.15 M377.95 34.55 h-3.15 M75.65 29.58 h6.30 M377.95 29.58 h-6.30"/>
<rect x="75.65" y="14.12" width="302.30" height="196.33"/>
</g>
<text x="72.67" y="236.00" font-size="19.00">0</text>
<text x="127.85" y="236.00" font-size="19.00">20</text>
<text x="188.31" y="236.00" font-size="19.00">40</text>
<text x="248.77" y="236.00" font-size="19.00">60</text>
<text x="309.23" y="236.00" font-size="19.00">80</text>
<path fill="#000" d="M371.22 236.00 L369.55 236.00 L369.55 226.41 L366.32 226.41 L366.32 225.21 C368.39 225.17 369.50 224.37 369.93 222.53 L371.22 222.53 Z"/><text x="374.97" y="236.00" font-size="19.00">00</text>
<path fill="#000" d="M41.84 37.73 L40.17 37.73 L40.17 28.13 L36.94 28.13 L36.94 26.93 C39.01 26.90 40.11 26.10 40.55 24.25 L41.84 24.25 Z"/><text x="45.59" y="37.73" font-size="19.00">0</text><text x="56.15" y="28.13" font-size="15.20">2</text>
<path fill="#000" d="M41.84 89.07 L40.17 89.07 L40.17 79.47 L36.94 79.47 L36.94 78.28 C39.01 78.24 40.11 77.44 40.55 75.60 L41.84 75.60 Z"/><text x="45.59" y="89.07" font-size="19.00">0</text><path fill="#000" d="M61.61 79.47 L60.27 79.47 L60.27 71.79 L57.69 71.79 L57.69 70.83 C59.34 70.80 60.22 70.17 60.57 68.69 L61.61 68.69 Z"/>
<path fill="#000" d="M41.84 140.41 L40.17 140.41 L40.17 130.82 L36.94 130.82 L36.94 129.62 C39.01 129.58 40.11 128.78 40.55 126.94 L41.84 126.94 Z"/><text x="45.59" y="140.41" font-size="19.00">0</text><text x="56.15" y="130.81" font-size="15.20">0</text>
<path fill="#000" d="M33.29 191.75 L31.62 191.75 L31.62 182.16 L28.39 182.16 L28.39 180.96 C30.46 180.92 31.56 180.13 32.00 178.28 L33.29 178.28 Z"/><text x="37.04" y="191.75" font-size="19.00">0</text><text x="47.1" y="183.95" font-size="15.2">−</text><path fill="#000" d="M61.31 182.15 L59.97 182.15 L59.97 174.48 L57.39 174.48 L57.39 173.52 C59.04 173.49 59.92 172.85 60.27 171.38 L61.31 171.38 Z"/>
<text transform="translate(15.9,112.5) rotate(-90)" font-size="19.0" text-anchor="middle">dσ/dΩ (mb/sr)</text>
<text x="182.9" y="263.1" font-size="19.0">θ</text><text x="192.2" y="268.1" font-size="15.2">c.m.</text><text x="226.4" y="263.1" font-size="19.0">(deg)</text>
<text x="320.1" y="32.40" font-size="13.7" text-anchor="end">exp</text>
<text x="320.1" y="51.30" font-size="13.7" text-anchor="end">th*ORF</text>
<text x="320.1" y="70.20" font-size="13.7" text-anchor="end">0.0</text>
<text x="320.1" y="89.10" font-size="13.7" text-anchor="end">3.089</text>
<text x="320.1" y="108.00" font-size="13.7" text-anchor="end">3.685</text>
<text x="320.1" y="126.90" font-size="13.7" text-anchor="end">3.854</text>
</svg></body></html>
